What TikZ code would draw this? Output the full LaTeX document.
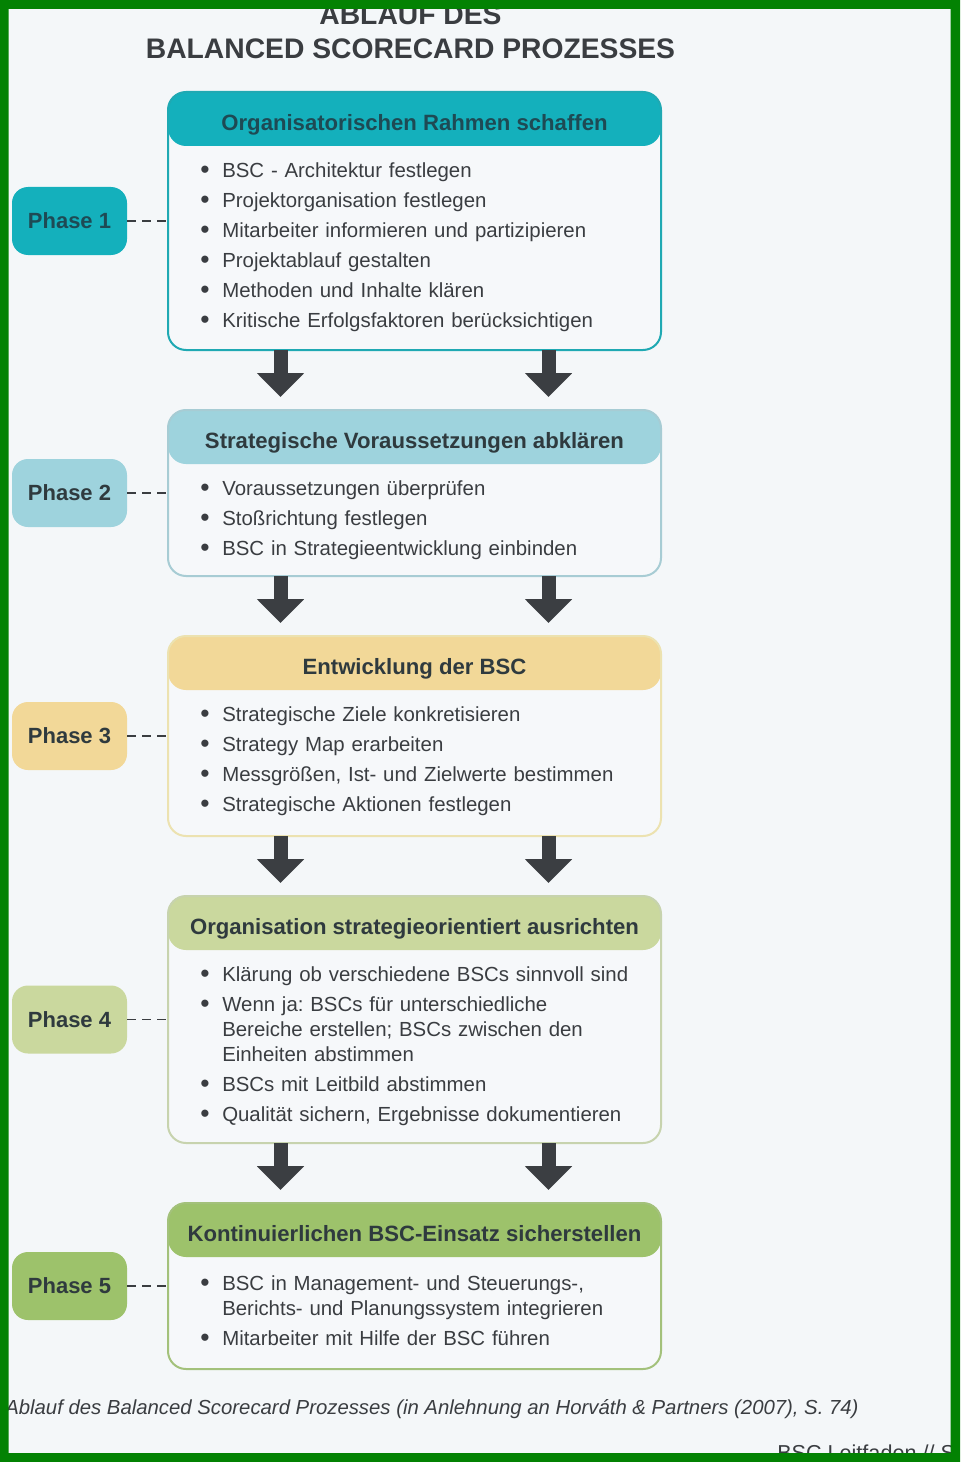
\documentclass[tikz,border=0pt]{standalone}
\usepackage{fontspec}
\setmainfont{Liberation Sans}
\usetikzlibrary{arrows.meta, positioning}
\frenchspacing

\definecolor{framegreen}{HTML}{038203}
\definecolor{pagebg}{HTML}{F4F7F9}
\definecolor{boxbg}{HTML}{F6F8FA}
\definecolor{inktext}{HTML}{3A3D41}
\definecolor{arrowgray}{HTML}{3B3E42}
\definecolor{tealhead}{HTML}{14B0BC}
\definecolor{tealline}{HTML}{1FA9B3}
\definecolor{tealink}{HTML}{1E4A54}
\definecolor{bluehead}{HTML}{9ED3DD}
\definecolor{blueline}{HTML}{A7CCD4}
\definecolor{sandhead}{HTML}{F2D898}
\definecolor{sandline}{HTML}{ECE2B0}
\definecolor{sagehead}{HTML}{CAD89E}
\definecolor{sageline}{HTML}{C7D3AE}
\definecolor{leafhead}{HTML}{9DC26B}
\definecolor{leafline}{HTML}{A3C17B}
\definecolor{darkink}{HTML}{2F3A3E}

\tikzstyle{phasebox} = [rectangle, rounded corners=13.5pt, line width=1.5pt, fill=boxbg, minimum width=369.75pt, inner sep=0pt, outer sep=0pt]
\tikzset{header/.style={path picture={\fill[#1] ([yshift=-40.5pt]path picture bounding box.north west) rectangle (path picture bounding box.north east);}}}
\tikzstyle{headtext} = [anchor=base, font=\bfseries\fontsize{16.6pt}{20pt}\selectfont, inner sep=0pt]
\tikzstyle{itemlist} = [anchor=north west, text width=360pt, align=left, inner sep=0pt, text=inktext, font=\fontsize{15.3pt}{18.75pt}\selectfont\setlength{\parskip}{3.75pt}\setlength{\lineskip}{0pt}]
\tikzstyle{pill} = [rectangle, rounded corners=12pt, minimum width=86.25pt, minimum height=51pt, inner sep=0pt, outer sep=0pt, font=\bfseries\fontsize{16.5pt}{20pt}\selectfont]
\tikzstyle{phaselink} = [line width=1.4pt, draw=inktext, dash pattern=on 6.75pt off 4.5pt]
\tikzstyle{bigarrow} = [draw=arrowgray, line width=10.5pt, -{Triangle[width=34.5pt,length=18pt]}, shorten >=9.75pt]
\tikzstyle{titletext} = [anchor=base, inner sep=0pt, text=inktext, font=\bfseries\fontsize{21.2pt}{25pt}\selectfont]

\newcommand{\bsitem}[1]{\par\noindent\makebox[16.5pt][l]{\raisebox{-0.06em}{\scalebox{1.3}{\textbullet}}}\parbox[t]{335pt}{\raggedright\strut#1\strut}\par}

\begin{document}
\begin{tikzpicture}[x=0.75pt, y=-0.75pt]

% Page
\fill[pagebg] (0,0) rectangle (960,1462);
\useasboundingbox (0,0) rectangle (960,1462);

% Title
\node[titletext] (t1) at (410.5,25) {ABLAUF DES};
\node[titletext] (t2) at (410.5,59) {BALANCED SCORECARD PROZESSES};

% Boxes (Phases)
\node[phasebox, draw=tealline, header=tealhead, minimum height=193.5pt] (b1) at (414.5,221) {};
\node[phasebox, draw=blueline, header=bluehead, minimum height=124.5pt, below=45pt of b1] (b2) {};
\node[phasebox, draw=sandline, header=sandhead, minimum height=150pt, below=45pt of b2] (b3) {};
\node[phasebox, draw=sageline, header=sagehead, minimum height=185.25pt, below=45pt of b3] (b4) {};
\node[phasebox, draw=leafline, header=leafhead, minimum height=124.5pt, below=45pt of b4] (b5) {};

% Headers
\node[headtext, text=tealink] (h1) at ([yshift=-28.8pt]b1.north) {Organisatorischen Rahmen schaffen};
\node[headtext, text=darkink] (h2) at ([yshift=-28.8pt]b2.north) {Strategische Voraussetzungen abklären};
\node[headtext, text=darkink] (h3) at ([yshift=-28.8pt]b3.north) {Entwicklung der BSC};
\node[headtext, text=darkink] (h4) at ([yshift=-28.8pt]b4.north) {Organisation strategieorientiert ausrichten};
\node[headtext, text=darkink] (h5) at ([yshift=-28.8pt]b5.north) {Kontinuierlichen BSC-Einsatz sicherstellen};

% Items
\node[itemlist] (l1) at ([xshift=24pt,yshift=-41.25pt]b1.north west) {%
  \bsitem{BSC - Architektur festlegen}
  \bsitem{Projektorganisation festlegen}
  \bsitem{Mitarbeiter informieren und partizipieren}
  \bsitem{Projektablauf gestalten}
  \bsitem{Methoden und Inhalte klären}
  \bsitem{Kritische Erfolgsfaktoren berücksichtigen}};
\node[itemlist] (l2) at ([xshift=24pt,yshift=-41.25pt]b2.north west) {%
  \bsitem{Voraussetzungen überprüfen}
  \bsitem{Stoßrichtung festlegen}
  \bsitem{BSC in Strategieentwicklung einbinden}};
\node[itemlist] (l3) at ([xshift=24pt,yshift=-41.25pt]b3.north west) {%
  \bsitem{Strategische Ziele konkretisieren}
  \bsitem{Strategy Map erarbeiten}
  \bsitem{Messgrößen, Ist- und Zielwerte bestimmen}
  \bsitem{Strategische Aktionen festlegen}};
\node[itemlist] (l4) at ([xshift=24pt,yshift=-41.25pt]b4.north west) {%
  \bsitem{Klärung ob verschiedene BSCs sinnvoll sind}
  \bsitem{Wenn ja: BSCs für unterschiedliche\\Bereiche erstellen; BSCs zwischen den\\Einheiten abstimmen}
  \bsitem{BSCs mit Leitbild abstimmen}
  \bsitem{Qualität sichern, Ergebnisse dokumentieren}};
\node[itemlist] (l5) at ([xshift=24pt,yshift=-42.75pt]b5.north west) {%
  \bsitem{BSC in Management- und Steuerungs-,\\Berichts- und Planungssystem integrieren}
  \bsitem{Mitarbeiter mit Hilfe der BSC führen}};

% Phase labels
\node[pill, fill=tealhead, text=tealink, left=30.75pt of b1] (p1) {Phase 1};
\node[pill, fill=bluehead, text=darkink, left=30.75pt of b2] (p2) {Phase 2};
\node[pill, fill=sandhead, text=darkink, left=30.75pt of b3] (p3) {Phase 3};
\node[pill, fill=sagehead, text=darkink, left=30.75pt of b4] (p4) {Phase 4};
\node[pill, fill=leafhead, text=darkink, left=30.75pt of b5] (p5) {Phase 5};

% Dashed links
\draw[phaselink] (p1) -- (b1);
\draw[phaselink] (p2) -- (b2);
\draw[phaselink] (p3) -- (b3);
\draw[phaselink] (p4) -- (b4);
\draw[phaselink] (p5) -- (b5);

% Arrows
\foreach \a/\b in {b1/b2, b2/b3, b3/b4, b4/b5} {
  \draw[bigarrow] ([xshift=-100.5pt]\a.south) -- ([xshift=-100.5pt]\b.north);
  \draw[bigarrow] ([xshift=100.5pt]\a.south) -- ([xshift=100.5pt]\b.north);
}

% Caption and footer
\node[anchor=base west, inner sep=0pt, text=inktext, font=\itshape\fontsize{15.25pt}{18pt}\selectfont] (cap) at (5,1414) {Ablauf des Balanced Scorecard Prozesses (in Anlehnung an Horváth \& Partners (2007), S. 74)};
\node[anchor=base west, inner sep=0pt, text=inktext, font=\fontsize{16.2pt}{19pt}\selectfont] (foot) at (777,1460.5) {BSC Leitfaden // S};

% Frame
\fill[framegreen, even odd rule] (0,0) rectangle (960,1462) (8.5,9) rectangle (950.5,1453);

\end{tikzpicture}
\end{document}
